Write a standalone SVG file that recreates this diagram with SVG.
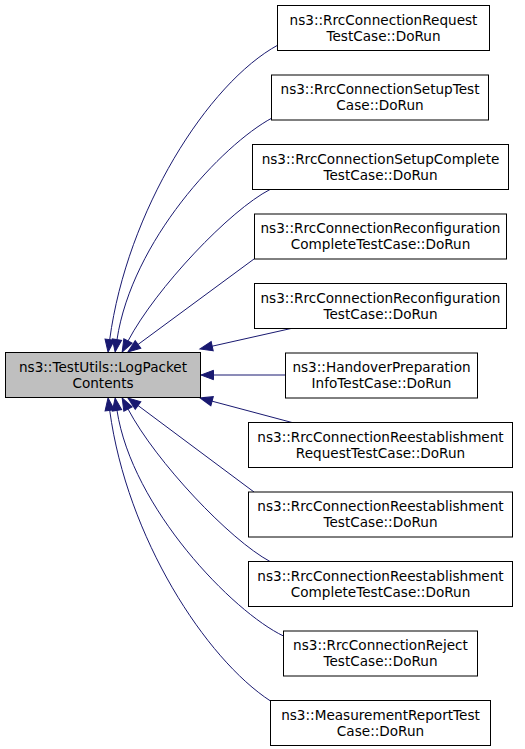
<svg xmlns="http://www.w3.org/2000/svg" width="525" height="749" viewBox="0 0 525 749">
<style>
.n rect{fill:#ffffff;stroke:#000000;stroke-width:1}
.n.hl rect{fill:#bfbfbf;stroke:#000000}
.n text{font-family:"DejaVu Sans","Liberation Sans",sans-serif;font-size:13.6px;fill:#000000;text-anchor:middle}
#edges path{fill:none;stroke:#191970;stroke-width:1;marker-end:url(#ah)}
</style>
<defs>
<marker id="ah" markerUnits="userSpaceOnUse" markerWidth="13" markerHeight="10" viewBox="0 0 13 10" refX="0" refY="5" orient="auto" overflow="visible">
<path d="M0,0.3 L12.5,5 L0,9.7 z" fill="#191970" stroke="#191970" stroke-width="1"/>
</marker>
</defs>
<rect width="525" height="749" fill="#ffffff"/>
<g id="edges">
<path d="M278,45 C208,83 127,211 109.7,339.6"/>
<path d="M272,118 C222,145 132,241 117,339.6"/>
<path d="M270,189.5 C230,210 156,288 128,341"/>
<path d="M254,259 L138,344.5"/>
<path d="M291,328.5 L212.2,346.2"/>
<path d="M285.5,375 L213.5,375"/>
<path d="M292,422.5 L212.1,401.2"/>
<path d="M254,492 L138,405.5"/>
<path d="M270,561.5 C230,540 156,462 128,409"/>
<path d="M283.5,636 C233,612 132,508 117,410.4"/>
<path d="M270.5,701 C206,659 127,538 109.7,410.4"/>
</g>
<g id="node0" class="n hl">
<rect x="5.5" y="352.5" width="195" height="45"/>
<text x="103" y="371.5">ns3::TestUtils::LogPacket</text>
<text x="103" y="387.5">Contents</text>
</g>
<g id="node1" class="n">
<rect x="277.5" y="5.5" width="212" height="45"/>
<text x="383.5" y="24.5">ns3::RrcConnectionRequest</text>
<text x="383.5" y="40.5">TestCase::DoRun</text>
</g>
<g id="node2" class="n">
<rect x="271.5" y="75" width="217" height="45"/>
<text x="380" y="94">ns3::RrcConnectionSetupTest</text>
<text x="380" y="110">Case::DoRun</text>
</g>
<g id="node3" class="n">
<rect x="252.5" y="144.5" width="256" height="45"/>
<text x="380.5" y="163.5">ns3::RrcConnectionSetupComplete</text>
<text x="380.5" y="179.5">TestCase::DoRun</text>
</g>
<g id="node4" class="n">
<rect x="254.5" y="214" width="252" height="45"/>
<text x="380.5" y="233">ns3::RrcConnectionReconfiguration</text>
<text x="380.5" y="249">CompleteTestCase::DoRun</text>
</g>
<g id="node5" class="n">
<rect x="254.5" y="283.5" width="252" height="45"/>
<text x="380.5" y="302.5">ns3::RrcConnectionReconfiguration</text>
<text x="380.5" y="318.5">TestCase::DoRun</text>
</g>
<g id="node6" class="n">
<rect x="285.5" y="353" width="192" height="45"/>
<text x="381.5" y="372">ns3::HandoverPreparation</text>
<text x="381.5" y="388">InfoTestCase::DoRun</text>
</g>
<g id="node7" class="n">
<rect x="248.5" y="422.5" width="264" height="45"/>
<text x="380.5" y="441.5">ns3::RrcConnectionReestablishment</text>
<text x="380.5" y="457.5">RequestTestCase::DoRun</text>
</g>
<g id="node8" class="n">
<rect x="248.5" y="492" width="264" height="45"/>
<text x="380.5" y="511">ns3::RrcConnectionReestablishment</text>
<text x="380.5" y="527">TestCase::DoRun</text>
</g>
<g id="node9" class="n">
<rect x="248.5" y="561.5" width="264" height="45"/>
<text x="380.5" y="580.5">ns3::RrcConnectionReestablishment</text>
<text x="380.5" y="596.5">CompleteTestCase::DoRun</text>
</g>
<g id="node10" class="n">
<rect x="283.5" y="631" width="194" height="45"/>
<text x="380.5" y="650">ns3::RrcConnectionReject</text>
<text x="380.5" y="666">TestCase::DoRun</text>
</g>
<g id="node11" class="n">
<rect x="270.5" y="700.5" width="220" height="45"/>
<text x="380.5" y="719.5">ns3::MeasurementReportTest</text>
<text x="380.5" y="735.5">Case::DoRun</text>
</g>
</svg>
